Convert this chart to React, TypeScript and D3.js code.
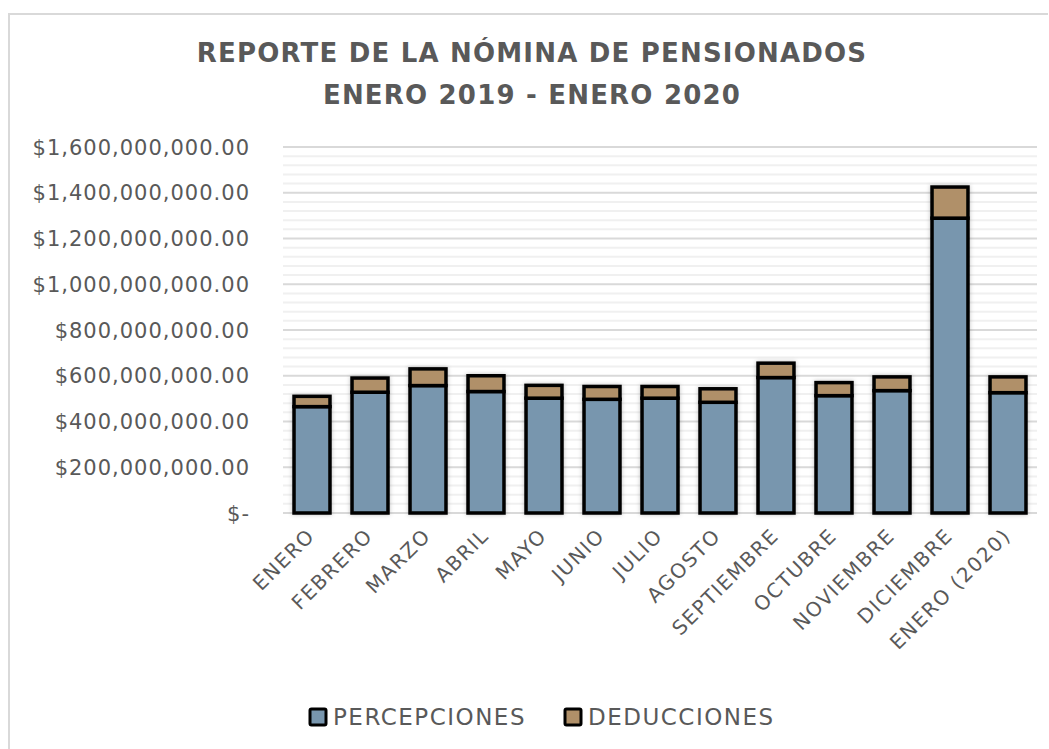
import React, { useRef, useEffect } from 'react';
import * as d3 from 'd3';

// months on the x axis
const months = [
  'ENERO', 'FEBRERO', 'MARZO', 'ABRIL', 'MAYO', 'JUNIO', 'JULIO',
  'AGOSTO', 'SEPTIEMBRE', 'OCTUBRE', 'NOVIEMBRE', 'DICIEMBRE', 'ENERO (2020)',
];

// values in pesos
const percepciones = [
  465e6, 528e6, 557e6, 531e6, 502e6, 497e6, 502e6,
  484e6, 592e6, 513e6, 535e6, 1289e6, 526e6,
];
const deducciones = [
  45e6, 62e6, 73e6, 69e6, 56e6, 56e6, 51e6,
  59e6, 63e6, 57e6, 60e6, 136e6, 69e6,
];

const seriesNames = ['PERCEPCIONES', 'DEDUCCIONES'];
const seriesColors = ['#7896ae', '#b09069'];
const yTicks = [0, 200e6, 400e6, 600e6, 800e6, 1000e6, 1200e6, 1400e6, 1600e6];

const FONT = '"DejaVu Sans", sans-serif';
const TEXT = '#595959';

const App = () => {
  const svgRef = useRef<SVGSVGElement>(null);

  useEffect(() => {
    const svg = d3.select(svgRef.current);
    svg.selectAll('*').remove();
    const width = 1049;
    const height = 749;
    const margin = { top: 147, right: 12, bottom: 236, left: 283 };

    svg.attr('width', width).attr('height', height);

    // chart frame
    svg.append('path')
      .attr('d', `M9,${height} V14 H${width - 1}`)
      .attr('fill', 'none')
      .attr('stroke', '#d9d9d9')
      .attr('stroke-width', 2);

    const defs = svg.append('defs');
    const f = defs.append('filter').attr('id', 'shadow')
      .attr('x', '-20%').attr('y', '-20%').attr('width', '140%').attr('height', '140%');
    f.append('feDropShadow')
      .attr('dx', 0).attr('dy', 0).attr('stdDeviation', 2)
      .attr('flood-color', '#000').attr('flood-opacity', 0.25);

    // title
    const title = svg.append('text')
      .attr('text-anchor', 'middle')
      .attr('font-family', FONT)
      .attr('font-weight', 'bold')
      .attr('font-size', 26)
      .attr('letter-spacing', 1.2)
      .attr('fill', TEXT);
    title.append('tspan').attr('x', 532).attr('y', 62).text('REPORTE DE LA NÓMINA DE PENSIONADOS');
    title.append('tspan').attr('x', 532).attr('y', 104).text('ENERO 2019 - ENERO 2020');

    const x = d3.scaleBand()
      .domain(months)
      .range([margin.left, width - margin.right])
      .paddingInner(0.38)
      .paddingOuter(0.19);

    const y = d3.scaleLinear()
      .domain([0, 1600e6])
      .range([height - margin.bottom, margin.top]);

    // minor gridlines
    svg.append('g')
      .selectAll('line')
      .data(d3.range(0, 1600e6 + 1, 40e6).filter(v => v % 200e6 !== 0))
      .join('line')
      .attr('x1', margin.left).attr('x2', width - margin.right)
      .attr('y1', d => y(d)).attr('y2', d => y(d))
      .attr('stroke', '#f0f0f0').attr('stroke-width', 2);

    // major gridlines
    svg.append('g')
      .selectAll('line')
      .data(yTicks)
      .join('line')
      .attr('x1', margin.left).attr('x2', width - margin.right)
      .attr('y1', d => y(d)).attr('y2', d => y(d))
      .attr('stroke', '#d9d9d9').attr('stroke-width', 2);

    const fmt = d3.format(',.2f');
    svg.append('g')
      .selectAll('text')
      .data(yTicks)
      .join('text')
      .attr('x', 250)
      .attr('y', d => y(d))
      .attr('dy', '0.36em')
      .attr('text-anchor', 'end')
      .attr('font-family', FONT)
      .attr('font-size', 21)
      .attr('letter-spacing', 1)
      .attr('fill', TEXT)
      .text(d => (d === 0 ? '$-' : '$' + fmt(d)));

    const stacked = d3.stack<number>()
      .keys(['0', '1'])
      .value((i, k) => (k === '0' ? percepciones[i] : deducciones[i]))(d3.range(months.length));

    svg.append('g')
      .attr('filter', 'url(#shadow)')
      .selectAll('g')
      .data(stacked)
      .join('g')
      .attr('fill', (d, i) => seriesColors[i])
      .selectAll('rect')
      .data(d => d)
      .join('rect')
      .attr('x', d => x(months[d.data])!)
      .attr('y', d => y(d[1]))
      .attr('height', d => y(d[0]) - y(d[1]))
      .attr('width', x.bandwidth())
      .attr('stroke', '#000')
      .attr('stroke-width', 3.5);

    // x labels
    svg.append('g')
      .selectAll('text')
      .data(months)
      .join('text')
      .attr('transform', d => `translate(${x(d)! + x.bandwidth() / 2 + 4},${height - margin.bottom + 24}) rotate(-45)`)
      .attr('text-anchor', 'end')
      .attr('font-family', FONT)
      .attr('font-size', 20)
      .attr('letter-spacing', 1.5)
      .attr('fill', TEXT)
      .text(d => d);

    // legend
    const legendX = [310, 565];
    const lg = svg.append('g')
      .selectAll('g')
      .data(seriesNames)
      .join('g')
      .attr('transform', (d, i) => `translate(${legendX[i]},717)`);
    lg.append('rect')
      .attr('x', 0).attr('y', -8).attr('width', 16).attr('height', 16)
      .attr('fill', (d, i) => seriesColors[i])
      .attr('stroke', '#000').attr('stroke-width', 3).attr('rx', 1.5);
    lg.append('text')
      .attr('x', 23).attr('dy', '0.36em')
      .attr('font-family', FONT)
      .attr('font-size', 23)
      .attr('letter-spacing', 1.5)
      .attr('fill', TEXT)
      .text(d => d);
  }, []);

  return <svg ref={svgRef} style={{ position: 'absolute', left: 0, top: 0, display: 'block' }}></svg>;
};

export default App;
